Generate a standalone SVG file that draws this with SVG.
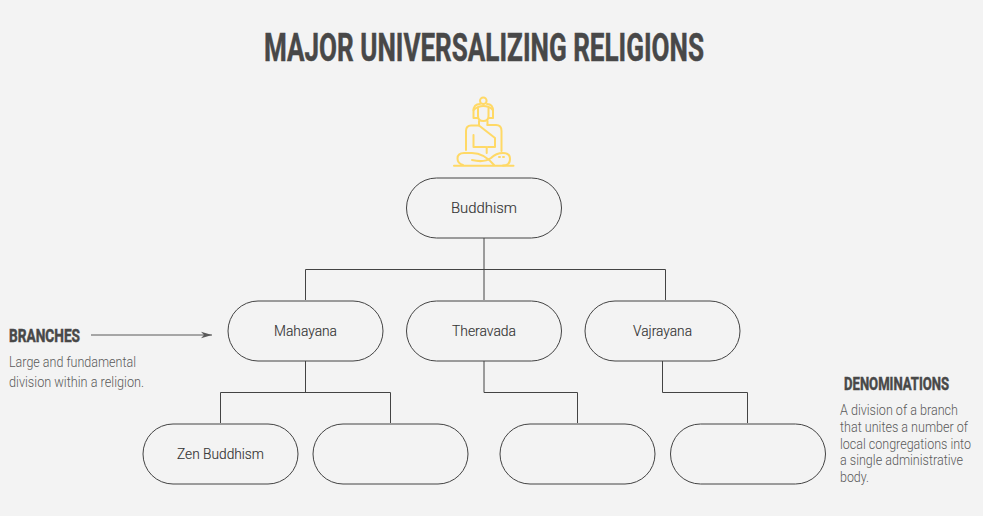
<svg xmlns="http://www.w3.org/2000/svg" width="983" height="516" viewBox="0 0 983 516">
<style>
text{font-family:Roboto,"Liberation Sans",sans-serif}
.h{font-weight:700;fill:#484848;stroke:#484848;stroke-width:.5}
.l{font-size:15.500px;fill:#333333;text-anchor:middle;font-weight:300;stroke:#333333;stroke-width:.15}
.d{font-size:14px;fill:#5a5a5a;font-weight:300}
.n{fill:#f3f3f3;stroke:#434343;stroke-width:1}
.c{fill:none;stroke:#434343;stroke-width:1}
.i{fill:none;stroke:#ffd966;stroke-width:2;stroke-linecap:round;stroke-linejoin:round}
</style>
<defs><marker id="a" markerUnits="userSpaceOnUse" markerWidth="12" markerHeight="8" refX="11" refY="4" orient="auto"><path d="M0 .8 L11 4 L0 7.200 L3 4 Z" fill="#595959"/></marker></defs>
<rect width="983" height="516" fill="#f3f3f3"/>
<text id="title" class="h" x="264" y="61" font-size="38" textLength="440" lengthAdjust="spacingAndGlyphs">MAJOR UNIVERSALIZING RELIGIONS</text>
<g id="icon" class="i">
<circle cx="483.300" cy="100.700" r="3.300"/>
<path d="M473.500 118 V111 Q473.500 104 480 104 M487 104 Q493 104 493 111 V118"/>
<path d="M473.500 110 Q478 106 483.300 106 Q489 106 493 110"/>
<path d="M478 108.500 V116 Q478 121 483.300 121 Q488.500 121 488.500 116 V108.500"/>
<path d="M474 118 H477.500 M489 118 H492.500"/>
<path d="M479 121 V125.500 L495 138 V147 H488 M487.500 121 V125"/>
<path d="M479 125.500 H471 Q466 125.500 466 131 V150 M487.500 125 H496 Q501.500 125 501.500 131 V151"/>
<path d="M473.500 135 V147 H485.500 M486.700 147 V153"/>
<path d="M454 165.700 H513.500"/>
<path d="M463 165 Q457.500 163.500 457.500 158.500 Q457.500 153 464 153 H472 Q484 153 494 165"/>
<path d="M472 160 Q484 163 491 158 Q496 153 503 153 Q510 153 510 159 Q510 165.500 503 165.500"/>
<path d="M499 157 H500 M503 157 H504"/>
</g>
<g id="connectors" class="c">
<path d="M484 238 V300"/>
<path d="M305.500 300 V269.500 H665.500 V300"/>
<path d="M305.500 361 V392.500"/>
<path d="M220.500 423 V392.500 H390.500 V423"/>
<path d="M484 361 V392.500 H577.500 V423"/>
<path d="M662.500 361 V392.500 H747.500 V423"/>
<path d="M91 335 H212" stroke="#595959" marker-end="url(#a)"/>
</g>
<g id="buddhism"><rect class="n" x="406.500" y="178" width="155" height="60" rx="30"/><text class="l" x="484" y="213" textLength="66" lengthAdjust="spacingAndGlyphs">Buddhism</text></g>
<g id="mahayana"><rect class="n" x="228" y="301" width="155" height="60" rx="30"/><text class="l" x="305.500" y="336" textLength="63" lengthAdjust="spacingAndGlyphs">Mahayana</text></g>
<g id="theravada"><rect class="n" x="406.500" y="301" width="155" height="60" rx="30"/><text class="l" x="484" y="336" textLength="64" lengthAdjust="spacingAndGlyphs">Theravada</text></g>
<g id="vajrayana"><rect class="n" x="585" y="301" width="155" height="60" rx="30"/><text class="l" x="662.500" y="336" textLength="59" lengthAdjust="spacingAndGlyphs">Vajrayana</text></g>
<g id="zen"><rect class="n" x="143" y="424" width="155" height="60" rx="30"/><text class="l" x="220.500" y="459" textLength="87" lengthAdjust="spacingAndGlyphs">Zen Buddhism</text></g>
<g id="denom2"><rect class="n" x="313" y="424" width="155" height="60" rx="30"/></g>
<g id="denom3"><rect class="n" x="500" y="424" width="155" height="60" rx="30"/></g>
<g id="denom4"><rect class="n" x="670.500" y="424" width="155" height="60" rx="30"/></g>
<g id="branches-note">
<text class="h" x="9" y="342" font-size="18" textLength="71" lengthAdjust="spacingAndGlyphs">BRANCHES</text>
<text class="d" x="9" y="367" textLength="127" lengthAdjust="spacingAndGlyphs">Large and fundamental</text>
<text class="d" x="9" y="387" textLength="135" lengthAdjust="spacingAndGlyphs">division within a religion.</text>
</g>
<g id="denominations-note">
<text class="h" transform="translate(844 390) scale(.72 1)" font-size="18" textLength="146" lengthAdjust="spacingAndGlyphs">DENOMINATIONS</text>
<text class="d" x="840" y="415" textLength="118" lengthAdjust="spacingAndGlyphs">A division of a branch</text>
<text class="d" x="840" y="432" textLength="128" lengthAdjust="spacingAndGlyphs">that unites a number of</text>
<text class="d" transform="translate(840 449) scale(.87 1)" textLength="150.600" lengthAdjust="spacingAndGlyphs">local congregations into</text>
<text class="d" x="840" y="465" textLength="123" lengthAdjust="spacingAndGlyphs">a single administrative</text>
<text class="d" x="840" y="482" textLength="29" lengthAdjust="spacingAndGlyphs">body.</text>
</g>
</svg>
